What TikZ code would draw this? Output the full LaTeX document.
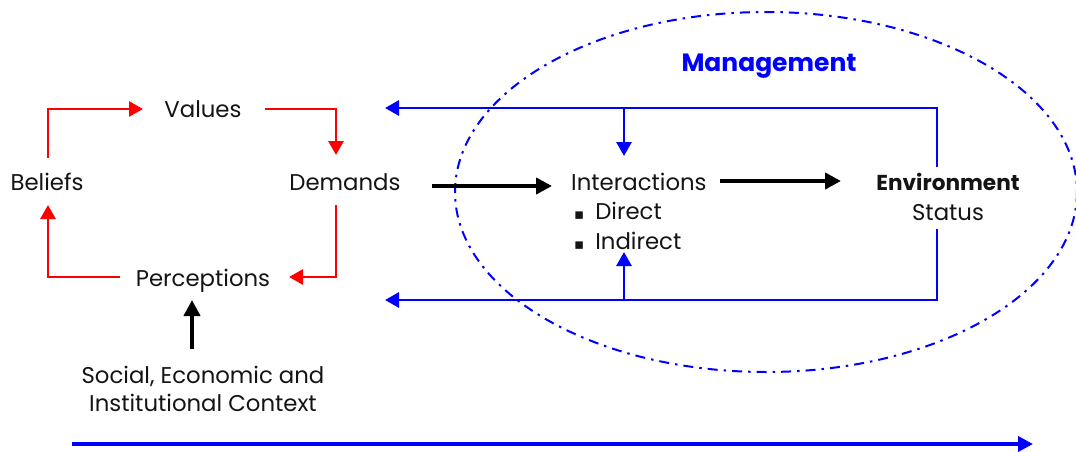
\documentclass[tikz,border=0pt]{standalone}
\usepackage{fontspec}
\setmainfont{Poppins}
\newfontfamily\symfont{DejaVu Sans}
\usetikzlibrary{arrows.meta}
\definecolor{myblue}{RGB}{0,0,255}
\definecolor{myred}{RGB}{255,0,0}
\definecolor{txt}{RGB}{20,20,20}
\begin{document}
\begin{tikzpicture}[x=1pt,y=-1pt,
  lbl/.style={inner sep=0pt, anchor=base, text=txt, font=\fontsize{22.8}{26}\selectfont},
  redarr/.style={draw=myred, line width=2.8pt, line join=miter, -{Triangle[length=14pt,width=15pt]}},
  bluearr/.style={draw=myblue, line width=2.8pt, line join=miter, -{Triangle[length=14pt,width=15pt]}},
  blackarr/.style={draw=black, line width=4pt, -{Triangle[length=16pt,width=16pt]}},
  mgmt/.style={draw=myblue, line width=2pt, dash pattern=on 10pt off 6pt on 2.5pt off 6pt}
]
\useasboundingbox (0,0) rectangle (1076,452);

% ellipse
\draw[mgmt] (766,192) ellipse [x radius=311, y radius=180];

% texts
\node[lbl] (values) at (203,117) {Values};
\node[lbl] (beliefs) at (47,190) {Beliefs};
\node[lbl] (demands) at (345,190) {Demands};
\node[lbl] (perc) at (203,286) {Perceptions};
\node[lbl, anchor=base west] (inter) at (571,190) {Interactions};
\node[lbl, anchor=base west] (direct) at (574,219) {{\symfont\fontsize{15}{16}\selectfont ▪}\hspace{11pt}Direct};
\node[lbl, anchor=base west] (indirect) at (574,249) {{\symfont\fontsize{15}{16}\selectfont ▪}\hspace{11pt}Indirect};
\node[lbl, font=\fontsize{21.6}{26}\selectfont\bfseries] (env) at (948,190) {Environment};
\node[lbl] (status) at (948,220) {Status};
\node[lbl, font=\fontsize{25}{28}\selectfont\bfseries, text=myblue] (mg) at (769,72) {Management};
\node[lbl] (soc1) at (203,383) {Social, Economic and};
\node[lbl] (soc2) at (203,411) {Institutional Context};

% red cycle
\coordinate (bTop) at (48,158);
\coordinate (c1) at (48,109);
\coordinate (vIn) at (143,109);
\coordinate (vOut) at (265,109);
\coordinate (c2) at (336,109);
\coordinate (dIn) at (336,155);
\coordinate (dOut) at (336,205);
\coordinate (c3) at (336,277);
\coordinate (pIn) at (289,277);
\coordinate (pOut) at (120,277);
\coordinate (c4) at (48,277);
\coordinate (bIn) at (48,205);
\draw[redarr] (bTop) -- (c1) -- (vIn);
\draw[redarr] (vOut) -- (c2) -- (dIn);
\draw[redarr] (dOut) -- (c3) -- (pIn);
\draw[redarr] (pOut) -- (c4) -- (bIn);

% black arrows
\draw[blackarr] (432,186) coordinate (dR) -- (552,186) coordinate (iL);
\draw[blackarr] (720,181) coordinate (iR) -- (841,181) coordinate (eL);
\draw[blackarr] (192,349) coordinate (sTop) -- (192,300) coordinate (pBot);

% blue feedback loops
\coordinate (eTop) at (937,167);
\coordinate (k1) at (937,108);
\coordinate (tipTop) at (385,108);
\coordinate (br1) at (624,108);
\coordinate (iTop) at (624,156);
\coordinate (eBot) at (937,229);
\coordinate (k2) at (937,300);
\coordinate (tipBot) at (385,300);
\coordinate (br2) at (624,300);
\coordinate (iBot) at (624,252);
\draw[bluearr] (eTop) -- (k1) -- (tipTop);
\draw[bluearr] (br1) -- (iTop);
\draw[bluearr] (eBot) -- (k2) -- (tipBot);
\draw[bluearr] (br2) -- (iBot);

% time arrow
\coordinate (tA) at (72,444);
\coordinate (tB) at (1033,444);
\draw[draw=myblue, line width=4pt, -{Triangle[length=15pt,width=15pt]}] (tA) -- (tB);
\end{tikzpicture}
\end{document}
